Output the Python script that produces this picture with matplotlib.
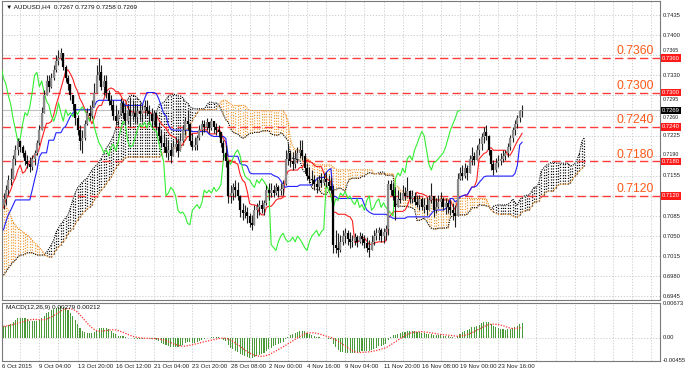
import numpy as np
import pandas as pd
import matplotlib
matplotlib.use("Agg")
import matplotlib.pyplot as plt
from matplotlib.transforms import blended_transform_factory

# ---------------- data (prices in pips: value / 10000) ----------------
close_pips = [
    7115, 7130, 7148, 7150, 7185, 7200, 7215, 7205, 7195, 7180,
    7175, 7170, 7185, 7195, 7212, 7235, 7265, 7295, 7320, 7310,
    7325, 7340, 7355, 7360, 7368, 7345, 7325, 7315, 7295, 7280,
    7255, 7235, 7215, 7220, 7245, 7265, 7260, 7275, 7300, 7330,
    7335, 7310, 7320, 7300, 7285, 7278, 7260, 7250, 7262, 7282,
    7265, 7250, 7270, 7260, 7265, 7258, 7268, 7262, 7270, 7275,
    7268, 7262, 7250, 7265, 7240, 7225, 7212, 7205, 7195, 7200,
    7190, 7205, 7210, 7198, 7215, 7235, 7250, 7245, 7215, 7205,
    7208, 7220, 7235, 7245, 7240, 7248, 7238, 7250, 7240, 7235,
    7232, 7212, 7195, 7180, 7120, 7125, 7135, 7130, 7120, 7095,
    7090, 7092, 7085, 7072, 7070, 7095, 7100, 7105, 7098, 7108,
    7130, 7125, 7130, 7125, 7135, 7128, 7132, 7140, 7185, 7195,
    7180, 7175, 7185, 7195, 7200, 7190, 7168, 7155, 7150, 7148,
    7140, 7135, 7148, 7142, 7150, 7145, 7138, 7130, 7035, 7030,
    7025, 7040, 7050, 7055, 7045, 7040, 7042, 7048, 7040, 7050,
    7045, 7038, 7030, 7025, 7040, 7050, 7055, 7060, 7050, 7058,
    7062, 7140, 7130, 7120, 7100, 7115, 7112, 7125, 7120, 7128,
    7115, 7120, 7110, 7105, 7115, 7100, 7105, 7095, 7112, 7120,
    7095, 7100, 7110, 7115, 7100, 7108, 7100, 7095, 7090, 7085,
    7150, 7160, 7155, 7168, 7160, 7185, 7190, 7182, 7200, 7210,
    7222, 7232, 7225, 7200, 7175, 7165, 7178, 7180, 7185, 7190,
    7195, 7205, 7220, 7235, 7245, 7255, 7267, 7269]
high_pips = [
    7125, 7139, 7156, 7168, 7191, 7209, 7221, 7217, 7209, 7200,
    7191, 7188, 7191, 7200, 7217, 7243, 7275, 7304, 7331, 7331,
    7334, 7348, 7365, 7374, 7378, 7365, 7348, 7331, 7313, 7296,
    7278, 7261, 7243, 7235, 7252, 7273, 7278, 7287, 7317, 7348,
    7360, 7348, 7331, 7331, 7304, 7296, 7287, 7278, 7270, 7291,
    7287, 7278, 7278, 7292, 7287, 7282, 7278, 7282, 7278, 7287,
    7287, 7278, 7273, 7270, 7264, 7249, 7235, 7230, 7221, 7217,
    7212, 7217, 7223, 7221, 7230, 7243, 7257, 7270, 7243, 7230,
    7223, 7226, 7243, 7252, 7252, 7256, 7249, 7256, 7249, 7247,
    7243, 7230, 7217, 7209, 7183, 7139, 7143, 7148, 7144, 7122,
    7108, 7104, 7100, 7091, 7087, 7104, 7108, 7113, 7113, 7113,
    7139, 7143, 7143, 7139, 7143, 7139, 7143, 7148, 7200, 7212,
    7200, 7196, 7200, 7205, 7217, 7217, 7195, 7177, 7170, 7165,
    7156, 7153, 7156, 7160, 7160, 7162, 7156, 7153, 7139, 7061,
    7055, 7052, 7061, 7064, 7061, 7057, 7052, 7055, 7052, 7057,
    7055, 7052, 7048, 7043, 7052, 7061, 7064, 7066, 7064, 7064,
    7069, 7148, 7148, 7143, 7135, 7130, 7126, 7139, 7135, 7153,
    7130, 7130, 7126, 7122, 7122, 7118, 7116, 7118, 7122, 7143,
    7113, 7116, 7122, 7126, 7118, 7116, 7113, 7113, 7108, 7104,
    7160, 7170, 7174, 7177, 7174, 7191, 7205, 7196, 7209, 7221,
    7230, 7240, 7243, 7226, 7200, 7183, 7186, 7191, 7195, 7200,
    7200, 7212, 7226, 7240, 7252, 7261, 7270, 7279]
low_pips = [
    7098, 7104, 7122, 7139, 7150, 7174, 7191, 7196, 7188, 7174,
    7169, 7162, 7165, 7174, 7191, 7209, 7235, 7270, 7296, 7301,
    7308, 7322, 7336, 7348, 7357, 7339, 7318, 7304, 7287, 7270,
    7243, 7226, 7200, 7195, 7217, 7243, 7252, 7256, 7278, 7304,
    7322, 7304, 7296, 7291, 7278, 7270, 7252, 7243, 7243, 7261,
    7256, 7243, 7247, 7240, 7252, 7247, 7247, 7252, 7249, 7256,
    7261, 7249, 7240, 7243, 7235, 7217, 7205, 7196, 7188, 7183,
    7177, 7191, 7196, 7188, 7200, 7214, 7226, 7235, 7209, 7200,
    7200, 7200, 7217, 7226, 7231, 7235, 7230, 7235, 7230, 7226,
    7223, 7205, 7183, 7170, 7108, 7108, 7113, 7118, 7113, 7083,
    7078, 7082, 7073, 7065, 7061, 7074, 7082, 7087, 7091, 7087,
    7104, 7113, 7118, 7118, 7122, 7118, 7122, 7122, 7139, 7174,
    7170, 7165, 7169, 7177, 7186, 7183, 7160, 7148, 7143, 7139,
    7130, 7125, 7130, 7135, 7139, 7135, 7130, 7125, 7021, 7021,
    7014, 7022, 7035, 7038, 7035, 7030, 7031, 7035, 7031, 7038,
    7035, 7030, 7022, 7014, 7026, 7035, 7043, 7043, 7040, 7038,
    7043, 7052, 7122, 7113, 7078, 7104, 7108, 7113, 7113, 7118,
    7108, 7108, 7104, 7100, 7095, 7095, 7091, 7087, 7095, 7108,
    7083, 7091, 7099, 7100, 7095, 7089, 7091, 7087, 7078, 7066,
    7091, 7148, 7148, 7151, 7148, 7165, 7174, 7174, 7183, 7191,
    7200, 7212, 7217, 7191, 7165, 7156, 7162, 7170, 7174, 7179,
    7183, 7188, 7200, 7214, 7226, 7238, 7249, 7258]
first_open_pips = 7105

# indicator values before full look-back windows
tenkan_early_pips = [7099, 7113, 7122, 7130, 7143, 7151, 7165, 7174]
kijun_early_pips = [7061, 7075, 7087, 7095, 7104, 7113, 7113, 7113, 7113, 7113,
                    7113, 7113, 7130, 7148, 7165, 7188, 7195, 7195, 7195, 7217,
                    7217, 7217, 7230, 7230, 7230]
span_a_early_pips = [6982, 6988, 6994, 7000, 7005, 7008, 7014, 7017, 7017, 7019,
                     7021, 7021, 7021, 7019, 7017, 7017, 7017, 7017, 7022, 7028,
                     7035, 7043, 7057, 7064, 7071, 7076, 7082, 7087, 7099, 7113,
                     7125, 7134, 7139, 7144, 7148, 7151, 7158, 7165, 7170, 7174,
                     7179, 7186, 7195, 7203, 7209, 7216, 7225, 7238, 7250, 7262,
                     7272]
span_b_early_pips = [7104, 7102, 7095, 7085, 7075, 7069, 7064, 7061, 7057, 7055,
                     7052, 7048, 7043, 7038, 7035, 7030, 7026, 7019, 7015, 7014,
                     7014, 7019, 7026, 7031, 7035, 7040, 7047, 7054, 7059, 7063,
                     7071, 7078, 7083, 7089, 7094, 7097, 7101, 7104, 7113, 7118,
                     7125, 7130, 7135, 7141, 7148, 7153, 7160, 7169, 7174, 7179,
                     7183, 7186, 7188, 7188, 7188, 7188, 7188, 7188, 7188, 7188,
                     7188, 7188, 7188, 7188, 7188, 7188, 7191, 7196, 7196, 7196,
                     7196, 7203, 7203, 7203, 7203, 7209, 7217]
ema12_start, ema26_start = 0.7093, 0.7071

levels = [0.7360, 0.7300, 0.7240, 0.7180, 0.7120]
price_ticks = [0.7435, 0.7400, 0.7365, 0.7330, 0.7295, 0.7260, 0.7225, 0.7190,
               0.7155, 0.7120, 0.7085, 0.7050, 0.7015, 0.6980, 0.6945]
date_labels = ["9 Oct 04:00", "13 Oct 20:00", "16 Oct 12:00", "21 Oct 04:00",
               "23 Oct 20:00", "28 Oct 08:00", "2 Nov 00:00", "4 Nov 16:00",
               "9 Nov 04:00", "11 Nov 20:00", "16 Nov 08:00", "19 Nov 00:00",
               "23 Nov 16:00"]
first_date_label = "6 Oct 2015"
last_price = 0.7269
header = "AUDUSD,H4  0.7267 0.7279 0.7258 0.7269"
macd_title = "MACD(12,26,9) 0.00279 0.00212"
macd_scale = [(0.00673, "0.00673"), (0.0, "0.00"), (-0.00455, "-0.00455")]

# ---------------- derived series ----------------
c = np.array(close_pips) / 1e4
h = np.array(high_pips) / 1e4
l = np.array(low_pips) / 1e4
o = np.concatenate([[first_open_pips / 1e4], c[:-1]])
h = np.maximum(h, np.maximum(o, c))
l = np.minimum(l, np.minimum(o, c))
n = len(c)
idx = np.arange(n)

hs, ls = pd.Series(h), pd.Series(l)
tenkan = ((hs.rolling(9).max() + ls.rolling(9).min()) / 2).to_numpy()
kijun = ((hs.rolling(26).max() + ls.rolling(26).min()) / 2).to_numpy()
tenkan[:len(tenkan_early_pips)] = np.array(tenkan_early_pips) / 1e4
kijun[:len(kijun_early_pips)] = np.array(kijun_early_pips) / 1e4
b52 = ((hs.rolling(52).max() + ls.rolling(52).min()) / 2).to_numpy()

span_a = np.full(n + 26, np.nan)
span_b = np.full(n + 26, np.nan)
span_a[26:] = (tenkan + kijun) / 2
span_b[26:] = b52
span_a[:len(span_a_early_pips)] = np.array(span_a_early_pips) / 1e4
span_b[:len(span_b_early_pips)] = np.array(span_b_early_pips) / 1e4
cidx = np.arange(n + 26)

# MACD (12,26,9)
e12 = np.zeros(n); e26 = np.zeros(n)
a12, a26 = 2 / 13, 2 / 27
p12, p26 = ema12_start, ema26_start
for i in range(n):
    p12 = p12 + a12 * (c[i] - p12)
    p26 = p26 + a26 * (c[i] - p26)
    e12[i], e26[i] = p12, p26
macd = e12 - e26
signal = pd.Series(macd).rolling(9, min_periods=1).mean().to_numpy()

# ---------------- layout ----------------
W, H = 685, 375
fig = plt.figure(figsize=(W / 100, H / 100), dpi=100)
fig.patch.set_facecolor("white")
plt.rcParams["font.family"] = ["Liberation Sans", "DejaVu Sans"]

L_px, R_px = 2, 660
ax = fig.add_axes([L_px / W, 1 - 300 / H, (R_px - L_px) / W, 299 / H])
axm = fig.add_axes([L_px / W, 1 - 361 / H, (R_px - L_px) / W, 58 / H])

bar_px, x0_px = 2.39, 3.5
xl = ((L_px - x0_px) / bar_px, (R_px - x0_px) / bar_px)
ppx = 5743.0
ylim = (0.7435 - (300 - 15) / ppx, 0.7435 + (15 - 1) / ppx)

for a in (ax, axm):
    a.set_xlim(*xl)
    a.set_xticks([])
    for s in a.spines.values():
        s.set_color("#7a7a7a")
        s.set_linewidth(0.8)
    a.tick_params(left=False, bottom=False, labelleft=False)
ax.set_ylim(*ylim)

grid_kw = dict(color="#c8c8c8", lw=0.6, ls=(0, (1.5, 2)), zorder=0)
grid_x = np.arange(-1, 275, 8)
for g in price_ticks:
    ax.axhline(g, **grid_kw)
for gx in grid_x:
    ax.axvline(gx, **grid_kw)
    axm.axvline(gx, **grid_kw)
axm.axhline(0, **grid_kw)

# cloud (dotted vertical strokes per bar)
ok = ~np.isnan(span_a) & ~np.isnan(span_b)
up = ok & (span_a >= span_b)
dn = ok & (span_a < span_b)
ax.vlines(cidx[up], span_b[up], span_a[up], colors="#000000", lw=0.9,
          linestyles=(0, (0.9, 1.3)), zorder=1)
ax.vlines(cidx[dn], span_a[dn], span_b[dn], colors="#f39a2e", lw=0.9,
          linestyles=(0, (0.9, 1.3)), zorder=1)
ax.plot(cidx, span_a, color="#000000", lw=0.8, ls=(0, (1, 1)), zorder=2)
ax.plot(cidx, span_b, color="#f08a20", lw=0.8, ls=(0, (1, 1)), zorder=2)

# level lines
for lv in levels:
    ax.axhline(lv, color="#ff3b3b", lw=1.0, ls=(0, (6, 3)), zorder=2)
    ax.text((654 - x0_px) / bar_px, lv + 0.00015, f"{lv:.4f}", color="#ff5a1a",
            fontsize=8.8, ha="right", va="bottom", zorder=6)

# current price line
ax.axhline(last_price, color="#c0c0c0", lw=0.8, zorder=1)

# indicator lines
ax.plot(idx, tenkan, color="#ff2020", lw=0.8, zorder=4)
ax.plot(idx, kijun, color="#2020ff", lw=0.8, zorder=4)
ax.plot(idx - 26, c, color="#33ee33", lw=0.8, zorder=4)

# candles
ax.vlines(idx, l, h, colors="#202020", lw=0.8, zorder=5)
bull = c >= o
ax.vlines(idx[bull], o[bull], c[bull], colors="#8a8a8a", lw=1.6, zorder=5)
ax.vlines(idx[~bull], c[~bull], o[~bull], colors="#000000", lw=1.6, zorder=5)

# right price axis labels; labels crowded by a level box are nudged above it
tr = blended_transform_factory(ax.transAxes, ax.transData)
box_prices = levels + [last_price]
for t in price_ticks:
    near = min(box_prices, key=lambda b: abs(t - b))
    gap = abs(t - near) * ppx
    if gap < 1:
        continue  # fully covered by its own level box
    ypos = t
    fs = 4.2
    if gap < 6.5:
        ypos = near + np.sign(t - near) * 7.2 / ppx
        fs = 3.8
    ax.text(1.0 + 3 / 658, ypos, f"{t:.4f}", transform=tr, fontsize=fs,
            va="center", ha="left", color="#202020", clip_on=False)
for lv in levels:
    ax.text(1.0 + 2 / 658, lv, f"{lv:.4f}", transform=tr, fontsize=4.2,
            va="center", ha="left", color="white", clip_on=False, zorder=7,
            bbox=dict(boxstyle="square,pad=0.2", fc="#ff1a1a", ec="none"))
ax.text(1.0 + 2 / 658, last_price, f"{last_price:.4f}", transform=tr, fontsize=4.2,
        va="center", ha="left", color="white", clip_on=False, zorder=7,
        bbox=dict(boxstyle="square,pad=0.2", fc="#000000", ec="none"))

ax.text(4 / 658, 1 - 6 / 299, "\u25BC " + header, transform=ax.transAxes,
        fontsize=4.6, va="center", ha="left", color="#101010")

# MACD
axm.set_ylim(-0.00455 - 0.00005, 0.00673 + 0.00005)
axm.bar(idx, macd, width=0.45, color="#4a9a3a", zorder=2)
axm.plot(idx, signal, color="#ff3030", lw=0.9, ls=(0, (1, 1.2)), zorder=3)
trm = blended_transform_factory(axm.transAxes, axm.transData)
for v, s in macd_scale:
    axm.text(1.0 + 3 / 658, v, s, transform=trm, fontsize=4.2, va="center",
             ha="left", color="#202020", clip_on=False)
axm.text(4 / 658, 1 - 5 / 58, macd_title,
         transform=axm.transAxes, fontsize=4.6, va="center", ha="left",
         color="#101010")

# date labels
fig.text(2 / W, 1 - 367 / H, first_date_label, fontsize=4.4, va="center",
         ha="left", color="#202020")
for k, lab in enumerate(date_labels):
    bi = 15 + 16 * k
    xpx = x0_px + bar_px * bi
    fig.text(xpx / W, 1 - 367 / H, lab, fontsize=4.4, va="center", ha="left",
             color="#202020")

fig.savefig("out.png", dpi=100, facecolor="white")
